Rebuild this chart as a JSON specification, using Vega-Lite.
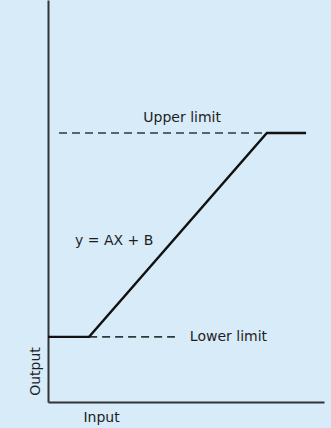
{
  "$schema": "https://vega.github.io/schema/vega-lite/v6.json",
  "width": 276,
  "height": 402,
  "autosize": {"type": "none"},
  "padding": {"left": 48, "right": 7, "top": 0, "bottom": 26},
  "background": "#d7ebf8",
  "config": {
    "view": {"stroke": null},
    "font": "DejaVu Sans",
    "axis": {
      "domainColor": "#333333",
      "domainWidth": 2,
      "ticks": false,
      "labels": false,
      "grid": false,
      "titleFont": "DejaVu Sans",
      "titleFontSize": 14,
      "titleFontWeight": "normal",
      "titleColor": "#1e1e1e"
    }
  },
  "datasets": {
    "curve": [
      {"input": 0, "output": 16.2},
      {"input": 14.9, "output": 16.2},
      {"input": 79.3, "output": 66.9},
      {"input": 93.5, "output": 66.9}
    ],
    "limits": [
      {"name": "Upper limit", "start": 4.0, "end": 79.3, "level": 66.9},
      {"name": "Lower limit", "start": 14.9, "end": 46.0, "level": 16.2}
    ],
    "centerLabels": [
      {"text": "Upper limit", "input": 48.6, "output": 70.6}
    ],
    "leftLabels": [
      {"text": "Lower limit", "input": 51.4, "output": 16.2},
      {"text": "y = AX + B", "input": 9.8, "output": 40.0}
    ]
  },
  "layer": [
    {
      "data": {"name": "limits"},
      "mark": {"type": "rule", "strokeDash": [8, 5], "strokeWidth": 1.6, "color": "#2b3b3b"},
      "encoding": {
        "x": {"field": "start", "type": "quantitative", "scale": {"domain": [0, 100], "nice": false, "zero": false}, "axis": {"title": "Input", "titleX": 53, "titleY": 15, "titleAlign": "center", "titleBaseline": "middle", "titleAnchor": null}},
        "x2": {"field": "end"},
        "y": {"field": "level", "type": "quantitative", "scale": {"domain": [0, 100], "nice": false, "zero": false}, "axis": {"title": "Output", "titleX": -13, "titleY": 371, "titleAngle": 270, "titleAlign": "center", "titleBaseline": "middle", "titleAnchor": null}}
      }
    },
    {
      "data": {"name": "curve"},
      "mark": {"type": "line", "color": "#111111", "strokeWidth": 2.4},
      "encoding": {
        "x": {"field": "input", "type": "quantitative"},
        "y": {"field": "output", "type": "quantitative"}
      }
    },
    {
      "data": {"name": "centerLabels"},
      "mark": {"type": "text", "fontSize": 14, "color": "#1e1e1e", "baseline": "middle", "align": "center", "font": "DejaVu Sans"},
      "encoding": {
        "x": {"field": "input", "type": "quantitative"},
        "y": {"field": "output", "type": "quantitative"},
        "text": {"field": "text"}
      }
    },
    {
      "data": {"name": "leftLabels"},
      "mark": {"type": "text", "fontSize": 14, "color": "#1e1e1e", "baseline": "middle", "align": "left", "font": "DejaVu Sans"},
      "encoding": {
        "x": {"field": "input", "type": "quantitative"},
        "y": {"field": "output", "type": "quantitative"},
        "text": {"field": "text"}
      }
    }
  ]
}
